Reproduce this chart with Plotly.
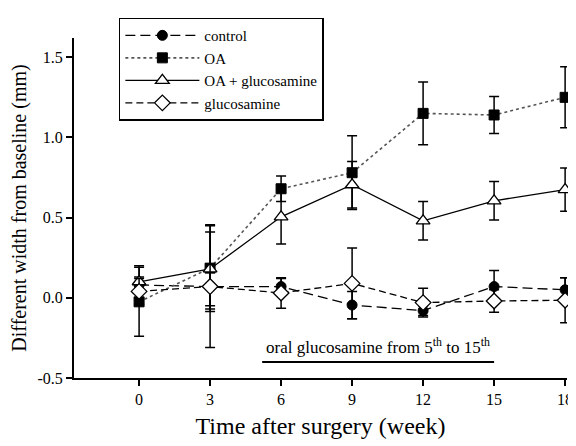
import plotly.graph_objects as go

weeks = [0, 3, 6, 9, 12, 15, 18]

control = [0.08, 0.07, 0.07, -0.045, -0.08, 0.07, 0.05]
control_err = [0.05, 0.38, 0.05, 0.085, 0.03, 0.10, 0.075]

oa = [-0.025, 0.185, 0.68, 0.78, 1.15, 1.14, 1.25]
oa_err = [0.215, 0.27, 0.08, 0.23, 0.195, 0.115, 0.19]

oa_glu = [0.10, 0.18, 0.505, 0.705, 0.48, 0.605, 0.675]
oa_glu_err = [0.10, 0.23, 0.17, 0.145, 0.12, 0.12, 0.135]

glu = [0.04, 0.07, 0.03, 0.09, -0.03, -0.02, -0.015]
glu_err = [0.08, 0.14, 0.095, 0.22, 0.09, 0.07, 0.14]

x_ticks = [0, 3, 6, 9, 12, 15, 18]
y_ticks = [-0.5, 0.0, 0.5, 1.0, 1.5]
y_tick_labels = ["-0.5", "0.0", "0.5", "1.0", "1.5"]

treat_start, treat_end, treat_y = 5.2, 15.0, -0.4
treat_label = "oral glucosamine from 5<sup>th</sup> to 15<sup>th</sup>"

FONT = "Liberation Serif, Times New Roman, serif"

def err(a):
    return dict(type="data", array=a, visible=True, color="black", thickness=1.5, width=5)

fig = go.Figure()
fig.add_trace(go.Scatter(
    x=weeks, y=control, name="control", mode="lines+markers", cliponaxis=False,
    line=dict(color="black", width=1.3, dash="10px,5px"),
    marker=dict(symbol="circle", size=10, color="black", line=dict(color="black", width=1)),
    error_y=err(control_err)))
fig.add_trace(go.Scatter(
    x=weeks, y=oa, name="OA", mode="lines+markers", cliponaxis=False,
    line=dict(color="#555555", width=1.6, dash="dot"),
    marker=dict(symbol="square", size=10, color="black", line=dict(color="black", width=1)),
    error_y=err(oa_err)))
fig.add_trace(go.Scatter(
    x=weeks, y=oa_glu, name="OA + glucosamine", mode="lines+markers", cliponaxis=False,
    line=dict(color="black", width=1.3),
    marker=dict(symbol="triangle-up", size=12, color="white", line=dict(color="black", width=1.3)),
    error_y=err(oa_glu_err)))
fig.add_trace(go.Scatter(
    x=weeks, y=glu, name="glucosamine", mode="lines+markers", cliponaxis=False,
    line=dict(color="black", width=1.3, dash="7px,4px"),
    marker=dict(symbol="diamond", size=12, color="white", line=dict(color="black", width=1.3)),
    error_y=err(glu_err)))

fig.add_shape(type="line", xref="x", yref="y", x0=treat_start, x1=treat_end,
              y0=treat_y, y1=treat_y, line=dict(color="black", width=2))
fig.add_annotation(x=(treat_start + treat_end) / 2, y=treat_y, xref="x", yref="y",
                   text=treat_label, showarrow=False, yanchor="bottom", yshift=3,
                   font=dict(family=FONT, size=17, color="black"))

# page body has an 8px margin, so the figure is drawn 8px right/down
fig.update_layout(
    width=568, height=438,
    margin=dict(l=66, r=9, t=30, b=68, autoexpand=False),
    paper_bgcolor="white", plot_bgcolor="white",
    font=dict(family=FONT, size=16, color="black"),
    showlegend=True,
    legend=dict(x=0.091, y=1.06, xanchor="left", yanchor="top",
                bordercolor="black", borderwidth=1.5, bgcolor="white",
                font=dict(family=FONT, size=15, color="black"),
                itemwidth=74, tracegroupgap=0),
    xaxis=dict(range=[-2.75, 18.08], tickvals=x_ticks, showgrid=False, zeroline=False,
               showline=True, linecolor="black", linewidth=2,
               ticks="outside", ticklen=6, tickwidth=2, tickcolor="black",
               tickfont=dict(family=FONT, size=16),
               title=dict(text="Time after surgery (week)", font=dict(family=FONT, size=24), standoff=10)),
    yaxis=dict(range=[-0.5, 1.62], tickvals=y_ticks, ticktext=y_tick_labels,
               showgrid=False, zeroline=False,
               showline=True, linecolor="black", linewidth=2,
               ticks="outside", ticklen=6, tickwidth=2, tickcolor="black",
               tickfont=dict(family=FONT, size=16),
               title=dict(text="Different width from baseline (mm)", font=dict(family=FONT, size=20), standoff=8)),
)

fig.write_html("out.html")
